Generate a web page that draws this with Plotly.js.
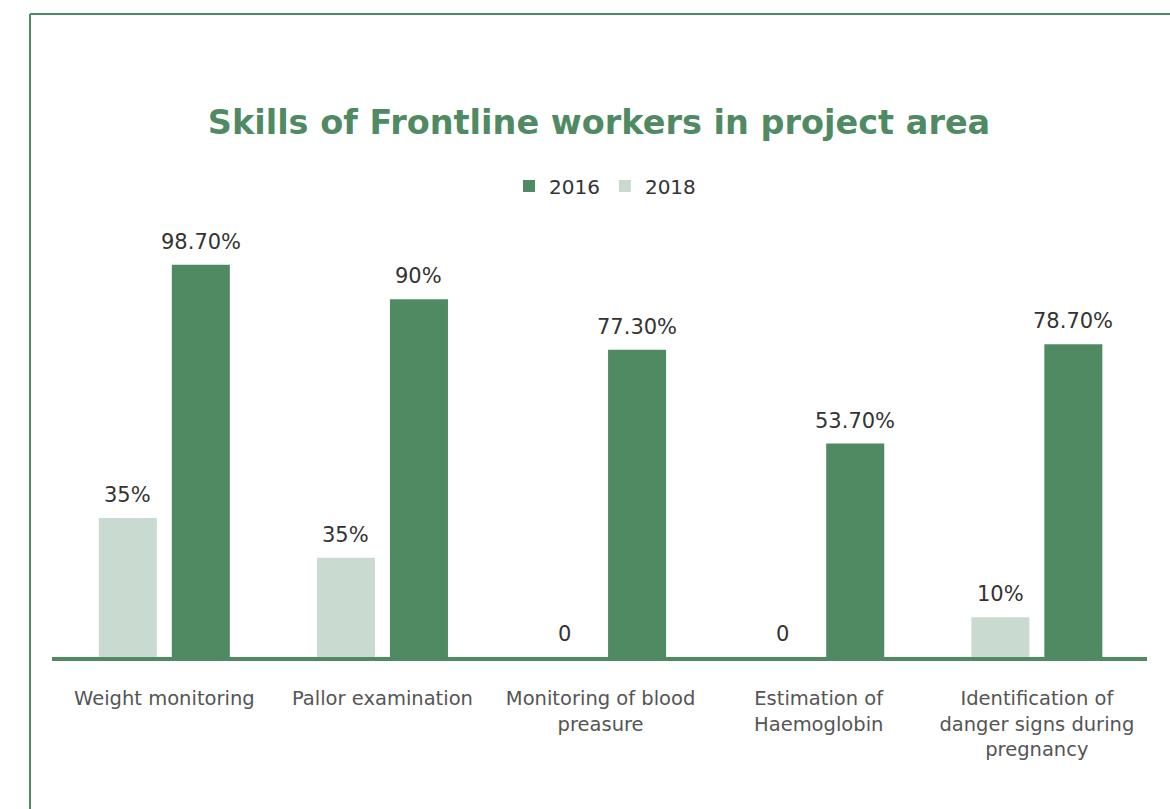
<!DOCTYPE html>
<html>
<head>
<meta charset="utf-8">
<script src="https://cdn.plot.ly/plotly-3.0.1.min.js"></script>
<style>html,body{margin:0;padding:0;background:#fff;}#chart{width:1170px;height:809px;}</style>
</head>
<body>
<div id="chart"></div>
<script>
const categories = ['Weight monitoring', 'Pallor examination', 'Monitoring of blood<br>preasure', 'Estimation of<br>Haemoglobin', 'Identification of<br>danger signs during<br>pregnancy'];
const series2018 = [35, 25, 0, 0, 10];
const labels2018 = ['35%', '35%', '0', '0', '10%'];
const series2016 = [98.7, 90, 77.3, 53.7, 78.7];
const labels2016 = ['98.70%', '90%', '77.30%', '53.70%', '78.70%'];
const seriesNames = ['2018', '2016'];

const DARK = '#508a62';
const LIGHT = '#c9dbd1';
const FONT = 'DejaVu Sans, sans-serif';

const W = 1170, H = 809;
const margin = {l: 52, r: 23, t: 200, b: 152, pad: 0};
const xRange = [-0.515, 4.505];
const plotW = W - margin.l - margin.r;
const plotH = H - margin.t - margin.b;
const unit = plotW / (xRange[1] - xRange[0]);
const slot = 73;
const bargap = 1 - 2 * slot / unit;

const traces = [
  {type: 'bar', name: seriesNames[0], x: categories, y: series2018,
   marker: {color: LIGHT}, hoverinfo: 'skip'},
  {type: 'bar', name: seriesNames[1], x: categories, y: series2016,
   marker: {color: DARK}, hoverinfo: 'skip'}
];

const labelFont = {family: FONT, size: 21, color: '#333'};
const annotations = [];
categories.forEach((c, i) => {
  annotations.push({x: c, y: series2018[i], text: labels2018[i], showarrow: false,
    xshift: -slot / 2, yshift: 23, yanchor: 'middle', font: labelFont});
  annotations.push({x: c, y: series2016[i], text: labels2016[i], showarrow: false,
    xshift: slot / 2, yshift: 23, yanchor: 'middle', font: labelFont});
});

const px2x = px => (px - margin.l) / plotW;
const py2y = py => (H - margin.b - py) / plotH;

const layout = {
  width: W, height: H,
  margin: margin,
  paper_bgcolor: '#fff', plot_bgcolor: '#fff',
  font: {family: FONT, color: '#555'},
  title: {text: '<b>Skills of Frontline workers in project area</b>',
    font: {family: FONT, size: 33.5, color: DARK},
    x: 599 / W, xref: 'container', xanchor: 'center', y: 1 - 122 / H, yref: 'container', yanchor: 'middle'},
  barmode: 'group', bargap: bargap, bargroupgap: 0.205,
  showlegend: true,
  legend: {orientation: 'h', traceorder: 'reversed', x: px2x(605), xanchor: 'center', y: py2y(186), yanchor: 'middle',
    font: {family: FONT, size: 20, color: '#333'}, itemwidth: 30},
  xaxis: {type: 'category', range: xRange, showline: true, linecolor: DARK, linewidth: 4, ticks: '',
    tickfont: {family: FONT, size: 19.5, color: '#555'}, ticklabelstandoff: 21, showgrid: false, zeroline: false, fixedrange: true},
  yaxis: {range: [0, 115], showgrid: false, zeroline: false, showticklabels: false, showline: false, fixedrange: true},
  annotations: annotations,
  shapes: [
    {type: 'line', xref: 'paper', yref: 'paper', x0: px2x(30), x1: px2x(1172), y0: py2y(14), y1: py2y(14), line: {color: DARK, width: 2}},
    {type: 'line', xref: 'paper', yref: 'paper', x0: px2x(30), x1: px2x(30), y0: py2y(14), y1: py2y(812), line: {color: DARK, width: 2}}
  ]
};

Plotly.newPlot('chart', traces, layout, {displayModeBar: false, staticPlot: true});
</script>
</body>
</html>
